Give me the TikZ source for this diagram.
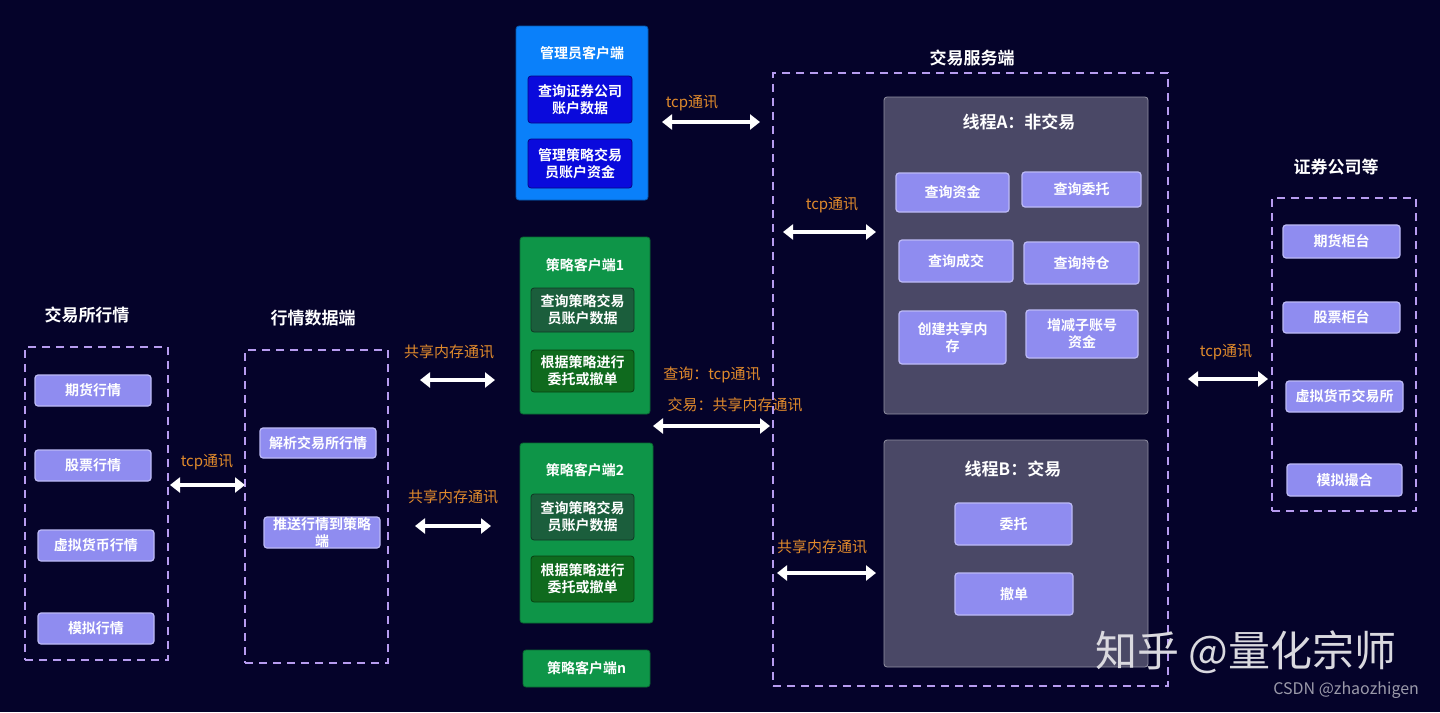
\documentclass[tikz,border=0pt]{standalone}
\usepackage{fontspec}
\setmainfont{Noto Sans CJK SC}
\newfontfamily\cjkb{Noto Sans CJK SC Bold}
\usetikzlibrary{arrows.meta}
\definecolor{bg}{HTML}{05032A}
\definecolor{lav}{HTML}{8F8CF0}
\definecolor{dash}{HTML}{B79CF0}
\definecolor{org}{HTML}{E08A2C}
\definecolor{adm}{HTML}{0A80FA}
\definecolor{admin}{HTML}{0A0ADC}
\definecolor{grn}{HTML}{0E9548}
\definecolor{grnA}{HTML}{1B5E3C}
\definecolor{grnB}{HTML}{0F6A1E}
\definecolor{thr}{HTML}{4A4866}
\newcommand\bx[7]{\node[#6, minimum width={(#4-#2)*0.5pt}, minimum height={(#5-#3)*0.5pt}] (#1) at ({(#2+#4)/2},{(#3+#5)/2}) {#7};}
\begin{document}
\begin{tikzpicture}[x=0.5pt,y=-0.5pt,
  box/.style={inner sep=0pt,align=center,font=\cjkb\fontsize{7}{8.5}\selectfont,text=white,rounded corners=1.5pt},
  item/.style={box,fill=lav,draw=lav!60!white,line width=0.6pt},
  cont/.style={draw=dash,dashed,line width=0.9pt,dash pattern=on 4pt off 3pt,inner sep=0pt},
  ttl/.style={font=\cjkb\fontsize{8.5}{10}\selectfont,text=white},
  lbl/.style={font=\fontsize{7.5}{9}\selectfont,text=org},
  arr/.style={white,line width=2.2pt,{Triangle[width=7.5pt,length=5pt]}-{Triangle[width=7.5pt,length=5pt]}}]
\fill[bg] (0,0) rectangle (1440,712);
% left exchange
\bx{ex}{25}{347}{168}{660}{cont}{}
\node[ttl] (exT) at (87,315) {交易所行情};
\bx{e1}{35}{375}{151}{406}{item}{期货行情}
\bx{e2}{35}{450}{151}{481}{item}{股票行情}
\bx{e3}{38}{530}{154}{561}{item}{虚拟货币行情}
\bx{e4}{38}{613}{154}{644}{item}{模拟行情}
% market data
\bx{md}{245}{350}{388}{663}{cont}{}
\node[ttl] (mdT) at (313,318) {行情数据端};
\bx{m1}{260}{428}{376}{458}{item}{解析交易所行情}
\bx{m2}{264}{517}{380}{548}{item}{推送行情到策略\\端}
\coordinate (a1) at (170,485); \coordinate (a2) at (245,485);
\draw[arr] (a1) -- (a2); \node[lbl] (l1) at (207,462) {tcp通讯};
% admin
\bx{ad}{516}{26}{648}{200}{box,fill=adm,draw=adm!70!black}{}
\node[ttl,font=\cjkb\fontsize{7}{8}\selectfont] (adT) at (582,53) {管理员客户端};
\bx{ad1}{528}{76}{632}{123}{box,fill=admin,draw=admin!60!black}{查询证券公司\\账户数据}
\bx{ad2}{528}{139}{632}{188}{box,fill=admin,draw=admin!60!black}{管理策略交易\\员账户资金}
% strategy 1
\bx{s1}{520}{237}{650}{414}{box,fill=grn,draw=grn!70!black}{}
\node[ttl,font=\cjkb\fontsize{7}{8}\selectfont] (s1T) at (585,265) {策略客户端1};
\bx{s11}{531}{288}{634}{332}{box,fill=grnA,draw=grnA!60!black}{查询策略交易\\员账户数据}
\bx{s12}{531}{350}{634}{392}{box,fill=grnB,draw=grnB!60!black}{根据策略进行\\委托或撤单}
\bx{s2}{520}{443}{653}{623}{box,fill=grn,draw=grn!70!black}{}
\node[ttl,font=\cjkb\fontsize{7}{8}\selectfont] (s2T) at (585,470) {策略客户端2};
\bx{s21}{531}{494}{634}{540}{box,fill=grnA,draw=grnA!60!black}{查询策略交易\\员账户数据}
\bx{s22}{531}{556}{634}{602}{box,fill=grnB,draw=grnB!60!black}{根据策略进行\\委托或撤单}
\bx{sn}{523}{650}{650}{687}{box,fill=grn,draw=grn!70!black}{策略客户端n}
\coordinate (b1) at (420,380); \coordinate (b2) at (495,380);
\draw[arr] (b1) -- (b2); \node[lbl] (l2) at (449,352) {共享内存通讯};
\coordinate (c1) at (415,526); \coordinate (c2) at (491,526);
\draw[arr] (c1) -- (c2); \node[lbl] (l3) at (453,497) {共享内存通讯};
\coordinate (d1) at (662,122); \coordinate (d2) at (760,122);
\draw[arr] (d1) -- (d2); \node[lbl] (l4) at (692,103) {tcp通讯};
\coordinate (f1) at (653,426); \coordinate (f2) at (770,426);
\draw[arr] (f1) -- (f2);
\node[lbl] (l5) at (712,375) {查询：tcp通讯};
\node[lbl] (l6) at (735,405) {交易：共享内存通讯};
% trade server
\bx{ts}{773}{73}{1168}{686}{cont}{}
\node[ttl] (tsT) at (972,58) {交易服务端};
\bx{ta}{884}{97}{1148}{414}{box,fill=thr,draw=thr!60!white}{}
\node[ttl] (taT) at (1019,122) {线程A：非交易};
\bx{a1}{896}{173}{1009}{212}{item}{查询资金}
\bx{a2}{1022}{172}{1141}{207}{item}{查询委托}
\bx{a3}{899}{240}{1013}{282}{item}{查询成交}
\bx{a4}{1024}{242}{1139}{284}{item}{查询持仓}
\bx{a5}{899}{311}{1006}{364}{item}{创建共享内\\存}
\bx{a6}{1026}{310}{1138}{358}{item}{增减子账号\\资金}
\bx{tb}{884}{440}{1148}{667}{box,fill=thr,draw=thr!60!white}{}
\node[ttl] (tbT) at (1013,469) {线程B：交易};
\bx{b1x}{955}{503}{1072}{545}{item}{委托}
\bx{b2x}{955}{573}{1073}{615}{item}{撤单}
\coordinate (g1) at (783,232); \coordinate (g2) at (876,232);
\draw[arr] (g1) -- (g2); \node[lbl] (l7) at (832,205) {tcp通讯};
\coordinate (h1) at (777,573); \coordinate (h2) at (876,573);
\draw[arr] (h1) -- (h2); \node[lbl] (l8) at (822,547) {共享内存通讯};
% brokers
\bx{br}{1272}{198}{1416}{511}{cont}{}
\node[ttl] (brT) at (1336,167) {证券公司等};
\bx{r1}{1283}{225}{1400}{258}{item}{期货柜台}
\bx{r2}{1283}{302}{1400}{333}{item}{股票柜台}
\bx{r3}{1286}{381}{1403}{412}{item}{虚拟货币交易所}
\bx{r4}{1287}{464}{1402}{496}{item}{模拟撮合}
\coordinate (k1) at (1188,379); \coordinate (k2) at (1268,379);
\draw[arr] (k1) -- (k2); \node[lbl] (l9) at (1226,352) {tcp通讯};
% watermark
\node[text=white!85!bg,font=\fontsize{21}{24}\selectfont,anchor=west] (wm) at (1088,652) {知乎 @量化宗师};
\node[text=white!60!bg,font=\fontsize{8}{10}\selectfont,anchor=east] (wm2) at (1426,690) {CSDN @zhaozhigen};
\end{tikzpicture}
\end{document}
